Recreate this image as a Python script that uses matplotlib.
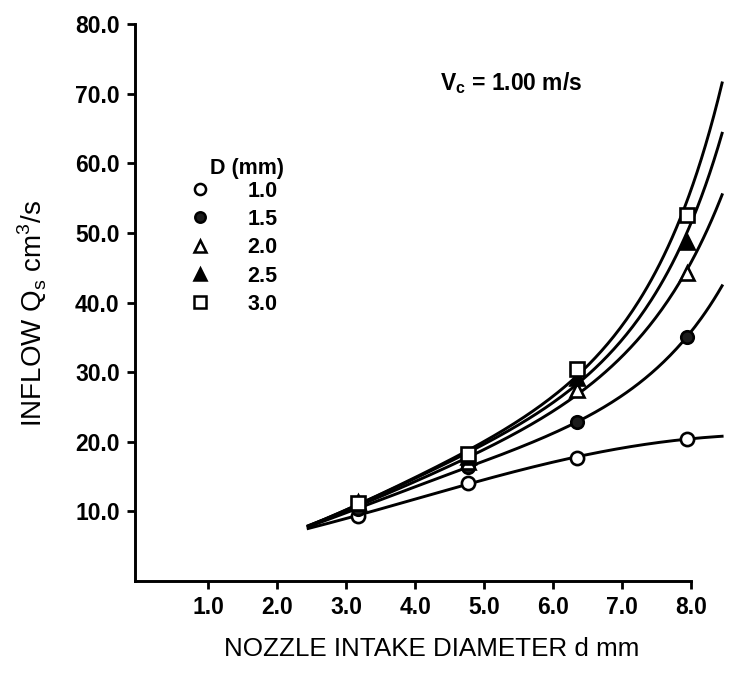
import matplotlib
matplotlib.use("Agg")
import matplotlib.pyplot as plt
from matplotlib.lines import Line2D
import numpy as np

plt.rcParams['font.family'] = ['Liberation Sans', 'DejaVu Sans']

# nozzle intake diameters (mm)
d_mm = [3.175, 4.76, 6.35, 7.94]

# inflow Qs (cm3/s) for each D (mm)
D_labels = ["1.0", "1.5", "2.0", "2.5", "3.0"]
q_10 = [9.3, 14.1, 17.7, 20.4]
q_15 = [10.4, 16.4, 22.8, 35.1]
q_20 = [11.2, 17.1, 27.4, 44.3]
q_25 = [11.3, 17.8, 29.2, 48.7]
q_30 = [11.2, 18.2, 30.5, 52.6]
series = [q_10, q_15, q_20, q_25, q_30]

# where the fitted curves start and end
curve_x0, curve_x1 = 2.45, 8.45
curve_y0 = [7.6, 7.8, 7.8, 7.8, 7.8]
curve_y1 = [20.8, 42.4, 55.6, 65.2, 73.0]

markers = ['o', 'o', '^', '^', 's']
faces = ['white', '#1c1c1c', 'white', 'black', 'white']
msizes = [9.5, 9, 10, 9.5, 10.5]

fig = plt.figure(figsize=(7.3, 6.74), dpi=100)
ax = fig.add_axes([135/730, 1 - 581/674, (729 - 135)/730, (581 - 24)/674])

for i, q in enumerate(series):
    xs = np.array([curve_x0] + d_mm + [curve_x1])
    ys = np.array([curve_y0[i]] + q + [curve_y1[i]])
    # smooth trend line as in the original
    c = np.polyfit(xs, np.log(ys), 3)
    xx = np.linspace(curve_x0, curve_x1, 200)
    ax.plot(xx, np.exp(np.polyval(c, xx)), color='black', lw=2.1, zorder=2)
    ax.plot(d_mm, q, linestyle='none', marker=markers[i], ms=msizes[i],
            mfc=faces[i], mec='black', mew=1.9, zorder=3)

ax.set_xlim(-0.06, 8.55)
ax.set_ylim(0, 80)
ax.spines['top'].set_visible(False)
ax.spines['right'].set_visible(False)
ax.spines['bottom'].set_bounds(-0.06, 8.0)
for s in ['left', 'bottom']:
    ax.spines[s].set_linewidth(2.1)

ax.set_xticks(np.arange(1, 9))
ax.set_yticks(np.arange(10, 81, 10))
ax.set_xticklabels([f"{v:.1f}" for v in np.arange(1, 9)])
ax.set_yticklabels([f"{v:.1f}" for v in np.arange(10, 81, 10)])
ax.tick_params(direction='out', length=6, width=2.0, labelsize=16.5, pad=5)
for lab in ax.get_xticklabels() + ax.get_yticklabels():
    lab.set_fontweight('bold')

ax.set_xlabel("NOZZLE INTAKE DIAMETER d mm", fontsize=18.7, labelpad=13)
ax.set_ylabel(r"INFLOW Q$_\mathregular{s}$ cm$^\mathregular{3}$/s", fontsize=20)
ax.yaxis.set_label_coords(-0.145, 0.48)

ax.text(0.513, 0.894, r"V$_\mathregular{c}$ = 1.00 m/s", transform=ax.transAxes,
        fontsize=16.5, fontweight='bold', va='center')

# legend: title as its own text, entries through legend()
ax.text(0.126, 0.741, "D (mm)", transform=ax.transAxes, fontsize=15.5,
        fontweight='bold', va='center')
handles = [Line2D([], [], linestyle='none', marker=markers[i], ms=msizes[i] - 1.5,
                  mfc=faces[i], mec='black', mew=1.8) for i in range(5)]
leg = ax.legend(handles, D_labels, loc='upper left',
                bbox_to_anchor=(0.073, 0.738), frameon=False, handlelength=1.0,
                handletextpad=1.7, labelspacing=0.34, borderpad=0,
                prop={'size': 15.5, 'weight': 'bold'})

fig.savefig("out.png", dpi=100)
